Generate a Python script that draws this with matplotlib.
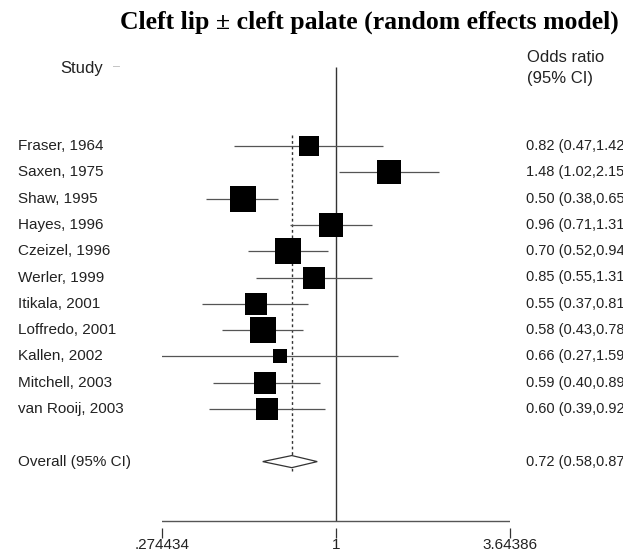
import matplotlib.pyplot as plt
import matplotlib.transforms as mtransforms
import numpy as np

studies = ['Fraser, 1964', 'Saxen, 1975', 'Shaw, 1995', 'Hayes, 1996', 'Czeizel, 1996',
           'Werler, 1999', 'Itikala, 2001', 'Loffredo, 2001', 'Kallen, 2002',
           'Mitchell, 2003', 'van Rooij, 2003']
odds = [0.82, 1.48, 0.50, 0.96, 0.70, 0.85, 0.55, 0.58, 0.66, 0.59, 0.60]
lower = [0.47, 1.02, 0.38, 0.71, 0.52, 0.55, 0.37, 0.43, 0.27, 0.40, 0.39]
upper = [1.42, 2.15, 0.65, 1.31, 0.94, 1.31, 0.81, 0.78, 1.59, 0.89, 0.92]
weights = [7.0, 10.1, 11.9, 10.1, 11.0, 7.8, 9.3, 11.0, 3.0, 9.3, 9.3]  # % weight

overall = 0.72
overall_lo = 0.58
overall_hi = 0.87

x_ticks = [0.274434, 1, 3.64386]
x_ticklabels = ['.274434', '1', '3.64386']

W, H = 623, 554
fig = plt.figure(figsize=(W / 100, H / 100), dpi=100)

# pixel layout
row0_px, row_step = 146, 26.3
top_px, axis_px, ax_bottom_px = 67, 521, 528
left_px, right_px = 162, 510

def px_to_row(p):
    return (p - row0_px) / row_step

ax = fig.add_axes([left_px / W, 1 - ax_bottom_px / H,
                   (right_px - left_px) / W, (ax_bottom_px - top_px) / H])
ax.set_xscale('log')
ax.set_xlim(x_ticks[0], x_ticks[-1])
ax.set_ylim(px_to_row(ax_bottom_px), px_to_row(top_px))

rows = np.arange(len(studies))
overall_row = len(studies) + 1

# CI lines
ax.hlines(rows, lower, upper, color='#555555', lw=0.9, zorder=2)
# boxes, area proportional to weight
side_px = 7.54 * np.sqrt(weights)
for r, o, s in zip(rows, odds, side_px):
    ax.plot(o, r, marker='s', ms=s * 0.72, color='black', mew=0, zorder=3)

# reference line at 1 and axis line
ax.vlines(1, px_to_row(top_px), px_to_row(axis_px), color='#333333', lw=1.0, zorder=1)
ax.axhline(px_to_row(axis_px), color='#555555', lw=1.0)
# overall dotted line
ax.vlines(overall, -0.4, overall_row + 0.35, color='#333333', lw=1.0, linestyles=(0, (2, 2)), zorder=1)

# diamond
dh = 0.23
ax.fill([overall_lo, overall, overall_hi, overall],
        [overall_row, overall_row - dh, overall_row, overall_row + dh],
        facecolor='white', edgecolor='#333333', lw=0.9, zorder=4)

for s in ['top', 'right', 'left', 'bottom']:
    ax.spines[s].set_visible(False)
ax.set_yticks([])
ax.xaxis.set_minor_locator(plt.NullLocator())
ax.set_xticks(x_ticks)
ax.set_xticklabels(x_ticklabels, fontsize=11, family='Liberation Sans', color='#222222')
ax.tick_params(axis='x', length=7, width=0.9, color='#333333', pad=0)
ax.set_facecolor('none')

# text columns
trans = mtransforms.blended_transform_factory(fig.transFigure, ax.transData)
font = dict(family='Liberation Sans', fontsize=11, color='#222222', va='center')
rfont = dict(font, fontsize=10.5)
for r, name, o, lo, hi in zip(rows, studies, odds, lower, upper):
    ax.text(18 / W, r, name, transform=trans, ha='left', **font)
    ax.text(526 / W, r, f'{o:.2f} ({lo:.2f},{hi:.2f})', transform=trans, ha='left', **rfont)
ax.text(18 / W, overall_row, 'Overall (95% CI)', transform=trans, ha='left', **font)
ax.text(526 / W, overall_row, f'{overall:.2f} ({overall_lo:.2f},{overall_hi:.2f})',
        transform=trans, ha='left', **rfont)

fig.text(60 / W, 1 - 68 / H, 'Study', ha='left', va='center', family='Liberation Sans', fontsize=12, color='#222222')
fig.text(113 / W, 1 - 67 / H, '\u2013', ha='left', va='center', family='Liberation Sans', fontsize=9, color='#bbbbbb')
fig.text(527 / W, 1 - 57 / H, 'Odds ratio', ha='left', va='center', family='Liberation Sans', fontsize=12, color='#222222')
fig.text(527 / W, 1 - 79 / H, '(95% CI)', ha='left', va='center', family='Liberation Sans', fontsize=12, color='#222222')

fig.text(369 / W, 1 - 22 / H, 'Cleft lip \u00b1 cleft palate (random effects model)', ha='center', va='center',
         family='Liberation Serif', fontweight='bold', fontsize=18.5)

fig.savefig('out.png', dpi=100)
